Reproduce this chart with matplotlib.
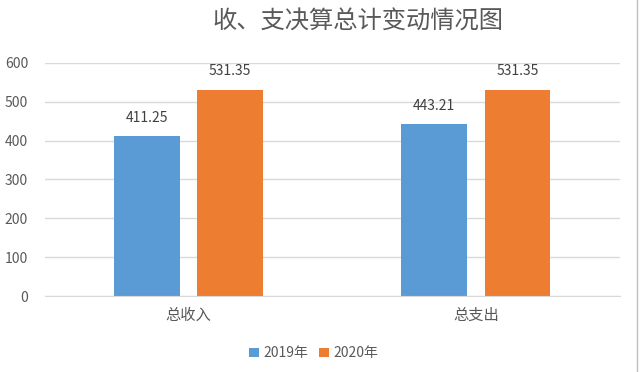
import matplotlib
matplotlib.use("Agg")
import matplotlib.pyplot as plt
import numpy as np

plt.rcParams['font.family'] = ['Noto Sans CJK SC', 'DejaVu Sans']

categories = ["总收入", "总支出"]
series_names = ["2019年", "2020年"]
values_2019 = [411.25, 443.21]
values_2020 = [531.35, 531.35]
yticks = [0, 100, 200, 300, 400, 500, 600]
title = "收、支决算总计变动情况图"

colors = ["#5B9BD5", "#ED7D31"]
text_color = "#595959"

fig = plt.figure(figsize=(6.4, 3.72), dpi=100)
ax = fig.add_axes([0.07, 0.204, 0.898, 0.627])

x = np.arange(len(categories))
w = 0.228
off = 0.145
b1 = ax.bar(x - off, values_2019, w, color=colors[0], label=series_names[0])
b2 = ax.bar(x + off, values_2020, w, color=colors[1], label=series_names[1])

for bars in (b1, b2):
    for r in bars:
        ax.annotate(f"{r.get_height():.2f}", (r.get_x() + r.get_width() / 2, r.get_height()),
                    xytext=(0, 8), textcoords="offset points", ha="center", va="bottom",
                    fontsize=10, color="#404040")

ax.set_xlim(-0.5, 1.5)
ax.set_ylim(0, 600)
ax.set_yticks(yticks)
ax.set_xticks(x)
ax.set_xticklabels(categories, fontsize=11, color=text_color)
ax.tick_params(axis='y', labelsize=10, colors=text_color, length=0, pad=12)
ax.tick_params(axis='x', length=0, pad=8)
ax.grid(axis='y', color="#D9D9D9", linewidth=1)
ax.set_axisbelow(True)
for s in ["top", "right", "left"]:
    ax.spines[s].set_visible(False)
ax.spines["bottom"].set_color("#D9D9D9")

fig.text(0.560, 0.941, title, ha="center", va="center", fontsize=17.5, color=text_color)

fig.legend(handles=[b1, b2], labels=series_names, loc="center", bbox_to_anchor=(0.49, 0.05),
           ncol=2, frameon=False, fontsize=10, handlelength=0.7, handleheight=0.7,
           handletextpad=0.3, columnspacing=0.8, labelcolor=text_color)

fig.add_artist(plt.Line2D([0.996, 0.996], [0, 1], color="#BFBFBF", linewidth=1, transform=fig.transFigure))

fig.savefig("out.png", dpi=100, facecolor="white")
